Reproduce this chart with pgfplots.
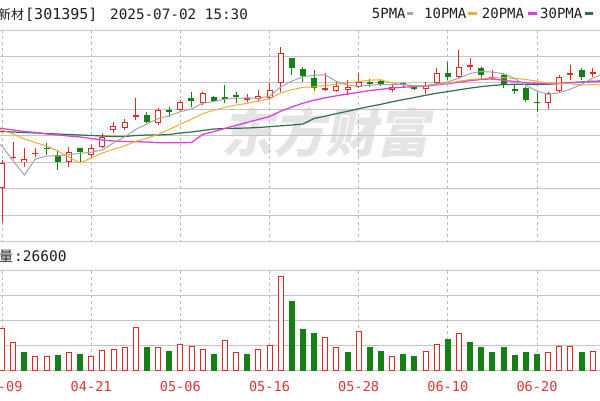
\documentclass[border=0pt]{standalone}
\usepackage{pgfplots}
\pgfplotsset{compat=1.18}
\usepackage{pgfplotstable}
\usepackage{fontspec}
\newfontfamily\cjk{Noto Sans CJK SC}
\newfontfamily\mono{DejaVu Sans Mono}
\definecolor{upred}{RGB}{228,38,38}
\definecolor{dngreen}{RGB}{22,128,22}
\definecolor{mafive}{RGB}{165,165,165}
\definecolor{maten}{RGB}{242,172,52}
\definecolor{matwenty}{RGB}{222,64,222}
\definecolor{mathirty}{RGB}{48,108,78}
\definecolor{gridc}{RGB}{196,196,196}
\definecolor{vgridc}{RGB}{185,185,185}
\definecolor{datec}{RGB}{222,52,52}
\definecolor{wm}{RGB}{228,228,228}
\definecolor{txt}{RGB}{30,30,30}

% candles (values = vertical position on the chart, larger = lower price)
\pgfplotstableread{
i o h l c
0 188 160 222 163
1 158 141.7 158.5 156.5
2 162 148 167 159
3 153.7 148.3 156.7 152.7
6 161.7 146.7 166.7 151.7
8 155 145 158.3 148.3
9 146.7 133 148.3 136.7
10 130 121.7 133.3 126
11 128.3 119 130 121.7
12 116.5 98.3 120 114.5
14 123.3 108.3 125 110
16 110 100 110.7 101.7
18 103.3 91.7 105 93.3
22 100 94 101.7 98.3
23 98.7 90 101.7 96
24 98.3 83.3 100 90
25 83.3 46.7 91.7 53.3
29 90 73.3 90.5 88.3
30 90.7 81.7 91.7 86
31 90 80 95 86.7
32 86.7 73.3 88 81.7
35 90 85 91.7 86.7
38 89.3 81.7 94 85
39 83.3 68.3 85 73.3
41 76.7 50 79.3 66.7
42 66.7 58.3 70 65
44 78.3 70 80 76.7
49 102.7 91.7 109.3 93.3
50 90.7 75 91.7 76.7
51 74.3 65 80 72.7
53 73.3 68.3 76.7 71.7
}\upc
\pgfplotstableread{
i o h l c
4 147.7 143 155 148.7
5 155 150 170 161.7
7 148.3 148 161.7 151.7
13 115 111.7 123.3 121.7
15 110.5 106.7 116.7 111.5
17 98.3 91.7 106.7 100.7
19 97.3 96 101.7 100.7
20 97.3 85 103.3 99.3
21 95 91.7 103.3 97.3
26 58.3 57.5 75 68.3
27 69.3 66.7 81.7 76
28 78.3 70 90.7 88.3
33 82 79.3 86.7 83.3
34 81 80 86 85
36 83.3 83 88 85
37 86.7 86.5 90 88.3
40 72.7 61.7 80 77.3
43 68.3 66.7 80 75
45 75 73.3 88.3 85
46 89.3 85 94 90.7
47 88.3 86.7 101.7 100
48 101.7 91.7 111.7 102.7
52 70 68.3 80 76.7
}\dnc
\pgfplotstableread{
i m5 m10 m20 m30
-1 138 128 127 131
0 146 130 128.5 131.5
1 161 134 130 132
2 175 139 131.5 132.5
3 159 142.5 132.5 133
4 156.1 146 134 133.5
5 155.8 151 135 134
6 154.7 157 136 134.5
7 153.3 163 137 135
8 152.3 158 138.5 135.5
9 150 153 140 136
10 142.9 149.3 141 136.5
11 136.9 145.8 141.5 136.5
12 129.3 141.3 141.7 135.5
13 124 138.2 142 135
14 118.7 134.4 142.7 135
15 115.7 129.3 142.7 134.5
16 111.7 124.3 142.7 133
17 109 119.2 142.5 132
18 103.3 113.7 134.5 130.5
19 101.5 110.1 131.6 129
20 99.1 107.4 128.4 128.5
21 98.3 105 125.4 128.3
22 97.8 103.4 122.4 128
23 98.3 100.8 119.5 127.5
24 96.2 98.8 116.6 126.7
25 87 93.1 111.2 125.8
26 81.2 89.7 107 125
27 76.7 87.3 103.2 124
28 75.2 86.8 100.2 118.5
29 74.8 85.5 97.8 116.2
30 81.4 84.2 95.8 113.6
31 85.1 83.1 94 111.3
32 86.2 81.5 92.4 108.7
33 85.2 80.2 90.5 106.4
34 84.5 79.7 89.3 104.3
35 84.7 83 88 101.8
36 84.3 84.7 87.2 99.6
37 85.7 85.9 86.6 97.5
38 86 85.6 86.2 95.3
39 83.7 84.1 84.8 93.2
40 81.8 83.2 83.7 91.6
41 78.1 81.2 82.2 89.8
42 73.5 79.6 80.5 88.1
43 71.5 78.7 79.5 86.6
44 72.1 77.9 78.8 85.5
45 73.7 77.7 80.4 84.6
46 78.5 78.3 81.5 84.2
47 85.5 79.5 82.7 84.2
48 91 81.2 83.4 84.5
49 94.3 83.2 83.7 84.3
50 92.7 83.2 83.2 83.5
51 89.1 83.8 82.5 82.7
52 84.4 85 82.3 82
53 78.2 84.6 81.7 81.2
54 74 85 81.5 81
}\matab
\pgfplotstableread{
i v
0 41.7
1 27.7
3 13.3
4 13.3
6 17.7
8 14
9 19.3
10 20.7
11 22.3
12 42.3
14 22.3
16 26
17 23.3
18 20.7
20 29.3
21 17.7
23 20.7
24 24.3
25 93.3
29 32.7
30 22.3
32 38.3
35 13.3
38 19
39 26
41 36.7
49 17.7
50 23.3
51 23.3
53 19
}\volup
\pgfplotstableread{
i v
2 17.7
5 15
7 16
13 22.3
15 19
19 16
22 16
26 68.3
27 41
28 36.7
31 17.7
33 22.3
34 19
36 16
37 13.3
40 31
42 27.7
43 22.3
44 17.7
45 22.3
46 15
47 17.7
48 16
52 17.7
}\voldn

\pgfplotsset{
  kchart/.style={
    scale only axis, width=600pt,
    xmin=-0.17944, xmax=53.6515,
    axis line style={draw=none},
    major tick length=0pt,
    xtick={0,8,16,24,32,40,48},
    grid=major,
    major x grid style={vgridc, line width=0.8pt, dash pattern=on 3pt off 3pt},
    major y grid style={gridc, line width=0.9pt},
    yticklabel={\mbox{}},
  },
  candle/.style 2 args={draw=none, mark=none, forget plot,
    error bars/.cd, y dir=both, y explicit, error mark=none,
    error bar style={draw=#1, line width=#2, line cap=butt}},
}

\begin{document}
\begin{tikzpicture}[x=1pt,y=1pt]
\useasboundingbox (0,0) rectangle (600,400);
\clip (0,0) rectangle (600,400);
\fill[white] (0,0) rectangle (600,400);

% watermark
\begin{scope}[shift={(330,268)}, xslant=0.2]
\node[transform shape, text=wm, inner sep=0pt, font=\cjk\bfseries\fontsize{52}{52}\selectfont] at (0,0) {东方财富};
\end{scope}

% price panel
\begin{axis}[kchart, at={(0pt,158.5pt)}, anchor=south west, height=211.5pt,
  ymin=30, ymax=241.5, y dir=reverse, xticklabel={\mbox{}},
  ytick={30,56.4375,82.875,109.3125,135.75,162.1875,188.625,215.0625,241.5}]
% red (up) candles
\addplot[candle={upred}{1pt}] table[x=i, y expr={(\thisrow{h}+\thisrow{l})/2}, y error expr={abs(\thisrow{l}-\thisrow{h})/2}] {\upc};
\addplot[candle={upred}{6pt}] table[x=i, y expr={(\thisrow{o}+\thisrow{c})/2}, y error expr={max(abs(\thisrow{o}-\thisrow{c})/2,0.6)}] {\upc};
\addplot[candle={white}{4pt}] table[x=i, y expr={(\thisrow{o}+\thisrow{c})/2}, y error expr={max(abs(\thisrow{o}-\thisrow{c})/2-1,0)}] {\upc};
% green (down) candles
\addplot[candle={dngreen}{1pt}] table[x=i, y expr={(\thisrow{h}+\thisrow{l})/2}, y error expr={abs(\thisrow{l}-\thisrow{h})/2}] {\dnc};
\addplot[candle={dngreen}{6pt}] table[x=i, y expr={(\thisrow{o}+\thisrow{c})/2}, y error expr={max(abs(\thisrow{o}-\thisrow{c})/2,0.6)}] {\dnc};
% moving averages
\addplot[mathirty, line width=1.2pt, mark=none] table[x=i, y=m30] {\matab};
\addplot[matwenty, line width=1.3pt, mark=none] table[x=i, y=m20] {\matab};
\addplot[maten, line width=1pt, mark=none] table[x=i, y=m10] {\matab};
\addplot[mafive, line width=1pt, mark=none] table[x=i, y=m5] {\matab};
\end{axis}

% volume panel
\begin{axis}[kchart, at={(0pt,30pt)}, anchor=south west, height=100pt,
  ymin=0, ymax=100, ytick={0,25,50,75,100},
  xticklabels={04-09,04-21,05-06,05-16,05-28,06-10,06-20},
  xticklabel style={text=datec, font=\mono\fontsize{13.6}{14}\selectfont, anchor=base, yshift=-21pt, inner sep=0pt}]
\addplot[ybar, bar width=5pt, bar shift=0pt, draw=upred, fill=white, line width=0.9pt] table[x=i, y=v] {\volup};
\addplot[ybar, bar width=5pt, bar shift=0pt, draw=dngreen, fill=dngreen, line width=0.9pt] table[x=i, y=v] {\voldn};
\end{axis}

% header texts
\node[anchor=base west, inner sep=0pt, text=txt, font=\cjk\fontsize{13}{13}\selectfont] at (-2,380.7) {新材};
\node[anchor=base west, inner sep=0pt, text=txt, font=\mono\fontsize{15}{15}\selectfont] at (25,380.7) {[301395]};
\node[anchor=base west, inner sep=0pt, text=txt, font=\mono\fontsize{14.3}{15}\selectfont] at (110,380.7) {2025-07-02 15:30};

\node[anchor=base west, inner sep=0pt, text=txt, font=\mono\fontsize{14}{14}\selectfont] at (371.7,381.7) {5PMA};
\draw[mafive, line width=3pt] (407.3,386) -- (413.3,386);
\node[anchor=base west, inner sep=0pt, text=txt, font=\mono\fontsize{14}{14}\selectfont] at (424,381.7) {10PMA};
\draw[maten, line width=3pt] (468.3,386) -- (476.7,386);
\node[anchor=base west, inner sep=0pt, text=txt, font=\mono\fontsize{14}{14}\selectfont] at (481.7,381.7) {20PMA};
\draw[matwenty, line width=3pt] (528.3,386) -- (536.7,386);
\node[anchor=base west, inner sep=0pt, text=txt, font=\mono\fontsize{14}{14}\selectfont] at (540,381.7) {30PMA};
\draw[mathirty, line width=3pt] (585,386) -- (593,386);

\node[anchor=base west, inner sep=0pt, text=txt, font=\cjk\fontsize{14}{14}\selectfont] at (-1,138.3) {量};
\node[anchor=base west, inner sep=0pt, text=txt, font=\mono\fontsize{14.5}{14}\selectfont] at (14,138.3) {:26600};
\end{tikzpicture}
\end{document}
